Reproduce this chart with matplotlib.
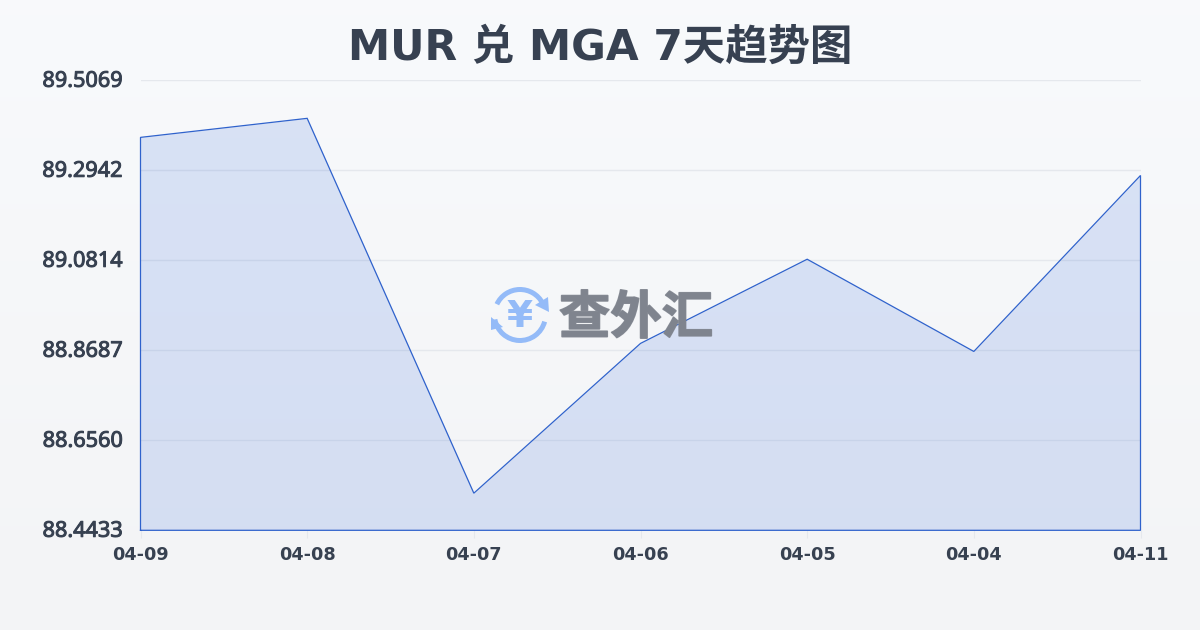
import numpy as np
import matplotlib
matplotlib.use('Agg')
import matplotlib.pyplot as plt
import matplotlib.patheffects as pe
from matplotlib.patches import Arc, Polygon
from matplotlib.transforms import ScaledTranslation

plt.rcParams['font.family'] = ['DejaVu Sans', 'Noto Sans CJK SC']

title = 'MUR 兑 MGA 7天趋势图'
dates = ['04-09', '04-08', '04-07', '04-06', '04-05', '04-04', '04-11']
rates = [89.372, 89.417, 88.531, 88.885, 89.084, 88.866, 89.282]
y_ticks = [88.4433, 88.6560, 88.8687, 89.0814, 89.2942, 89.5069]
y_labels = ['88.4433', '88.6560', '88.8687', '89.0814', '89.2942', '89.5069']

text_color = '#374151'
line_color = '#2f62cc'

fig = plt.figure(figsize=(12, 6.3), dpi=100)

# background gradient
bg = fig.add_axes([0, 0, 1, 1], zorder=0)
top = np.array([0.973, 0.980, 0.988])
bottom = np.array([0.953, 0.957, 0.965])
grad = np.linspace(0, 1, 630)[:, None, None] * (bottom - top) + top
bg.imshow(grad, aspect='auto')
bg.axis('off')

# plot area 140..1140 x 80..530 in pixels
ax = fig.add_axes([140.5 / 1200, 1 - 530.3 / 630, 1000 / 1200, 450 / 630], zorder=1)
ax.patch.set_alpha(0)
x = np.arange(len(dates))
ax.set_xlim(0, len(dates) - 1)
ax.set_ylim(y_ticks[0], y_ticks[-1])

ax.grid(axis='y', color='#e5e8ed', lw=1, zorder=1)
ax.set_axisbelow(True)
ax.fill_between(x, rates, y_ticks[0], color='#2860d8', alpha=0.15, lw=0, zorder=2)
outline_x = [x[0]] + list(x) + [x[-1], x[0]]
outline_y = [y_ticks[0]] + rates + [y_ticks[0], y_ticks[0]]
ax.plot(outline_x, outline_y, color=line_color, lw=0.9, zorder=4, clip_on=False,
        solid_joinstyle='miter')

for s in ax.spines.values():
    s.set_visible(False)
ax.set_xticks(x)
ax.set_xticklabels(dates, fontsize=12.7, fontweight='bold', color=text_color)
ax.set_yticks(y_ticks)
ax.set_yticklabels(y_labels, fontsize=15.6, color=text_color, family=['Noto Sans'],
                   path_effects=[pe.withStroke(linewidth=0.7, foreground=text_color)])
ax.tick_params(axis='x', length=6, width=0.8, color='#e5e8ed', pad=5)
ax.tick_params(axis='y', length=0, pad=13)

# y labels sit a little above their gridlines
up = ScaledTranslation(0, 1.5 / 100, fig.dpi_scale_trans)
for lab in ax.get_yticklabels():
    lab.set_transform(lab.get_transform() + up)

fig.text(0.5, 1 - 48 / 630, title, ha='center', va='center', fontsize=30.5,
         fontweight='bold', color=text_color)

# watermark, pixel coordinates
wm = fig.add_axes([0, 0, 1, 1], zorder=3)
wm.set_xlim(0, 1200)
wm.set_ylim(630, 0)
wm.axis('off')
blue = '#94bbf8'
wm.add_patch(Arc((520, 315), 51, 51, theta1=205, theta2=332, color=blue, lw=3.6))
wm.add_patch(Arc((520, 315), 51, 51, theta1=15, theta2=170, color=blue, lw=3.6))
wm.add_patch(Polygon([[549, 312], [548, 297], [535, 305]], color=blue, lw=0))
wm.add_patch(Polygon([[491, 317], [491, 330], [503, 327]], color=blue, lw=0))
wm.text(520, 317, '¥', ha='center', va='center', fontsize=27, fontweight='bold',
        color=blue)
wm.text(636, 318, '查外汇', ha='center', va='center', fontsize=37, fontweight='bold',
        color='#7f848e', alpha=0.92, family=['Noto Sans CJK SC'],
        path_effects=[pe.withStroke(linewidth=1.2, foreground='#7f848e', alpha=0.92)])

fig.savefig('out.png', dpi=100)
